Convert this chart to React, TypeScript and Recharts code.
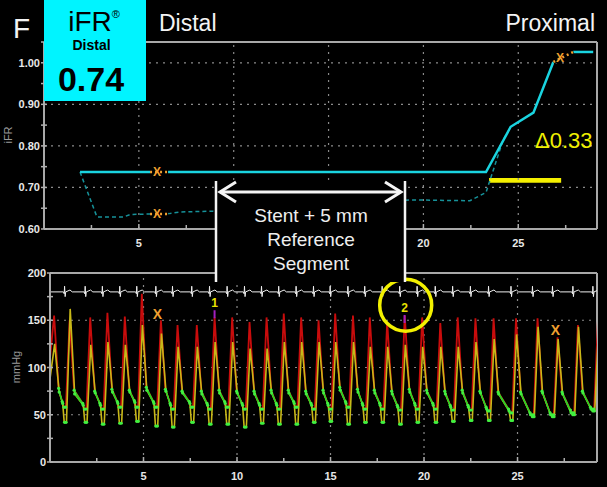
import React from 'react';
import { ComposedChart, Line, XAxis, YAxis, ReferenceLine, ReferenceArea, ReferenceDot, Scatter } from 'recharts';

const FONT = '"Liberation Sans", Arial, Helvetica, sans-serif';

// ---------- Top chart (iFR pullback) ----------
const pullbackT = [1.9, 23.3, 24.6, 25.8, 26.85];
const pullbackIFR = [0.737, 0.737, 0.846, 0.88, 1.002];
const proximalT = [27.9, 28.95];
const proximalIFR = [1.026, 1.026];
const gradientT = [1.9, 2.79, 4.2, 4.55, 6.6, 7.2, 8.9, 12.0, 15.5, 19.35, 22.45, 23.3, 24.2, 24.6];
const gradientIFR = [0.737, 0.629, 0.629, 0.635, 0.637, 0.641, 0.643, 0.652, 0.662, 0.67, 0.668, 0.688, 0.814, 0.846];
const markerT = [5.96, 5.96, 27.2];
const markerIFR = [0.737, 0.636, 1.012];
const markerSegT = [[5.59, 6.54], [5.59, 6.54], [26.85, 27.9]];
const markerSegIFR = [[0.737, 0.737], [0.636, 0.636], [1.002, 1.026]];
const deltaBarT = [23.46, 27.26];
const deltaBarIFR = [0.711, 0.723];

const xTicks = [2.5, 5, 7.5, 10, 12.5, 15, 17.5, 20, 22.5, 25, 27.5];
const topXLabels = [5, 20, 25]; // 10 and 15 sit under the annotation box
const botXLabels = [5, 10, 15, 20, 25];
const gridX = [5, 10, 15, 20, 25];
const topYTicks = [0.6, 0.65, 0.7, 0.75, 0.8, 0.85, 0.9, 0.95, 1.0, 1.05];
const topGridY = [0.7, 0.8, 0.9, 1.0];

// ---------- Bottom chart (pressures) ----------
const beatPeakT = [0.22, 1.05, 2.15, 3.07, 4.0, 4.91, 5.93, 6.82, 7.85, 8.8, 9.74, 10.67, 11.58, 12.5, 13.43, 14.36, 15.25, 16.2, 17.1, 18.03, 18.97, 19.9, 20.87, 21.8, 22.75, 23.72, 24.92, 26.07, 27.14, 28.23, 29.3];
// aortic pressure (Pa, red)
const paSystolic = [155, 150, 153, 158, 154, 178, 150, 145, 145, 153, 153, 148, 153, 157, 153, 150, 157, 155, 153, 148, 155, 153, 147, 153, 152, 152, 152, 152, 132, 145, 150];
const paNotch = [78, 76, 75, 77, 76, 79, 77, 75, 75, 76, 75, 75, 76, 76, 75, 76, 79, 77, 76, 75, 77, 76, 75, 76, 75, 74, 74, 75, 74, 75, 75];
const paLate = [64, 62, 62, 64, 65, 64, 62, 64, 62, 64, 62, 62, 62, 64, 62, 62, 64, 62, 62, 60, 62, 62, 60, 60, 58, 56, 52, 52, 55, 58, 58];
const paEndDiastolic = [58, 56, 56, 58, 58, 58, 56, 58, 56, 58, 56, 56, 56, 58, 56, 56, 58, 56, 56, 55, 56, 56, 55, 55, 54, 52, 50, 50, 52, 56, 56];
// distal pressure (Pd, yellow)
const pdSystolic = [125, 162, 124, 127, 124, 145, 136, 122, 122, 127, 127, 120, 120, 127, 127, 127, 127, 127, 122, 122, 124, 122, 122, 122, 127, 130, 135, 143, 130, 143, 140];
const pdNotch = [74, 72, 73, 74, 74, 76, 75, 73, 72, 73, 73, 72, 73, 73, 72, 73, 76, 74, 73, 72, 74, 73, 72, 73, 73, 72, 72, 73, 72, 73, 73];
const pdLate = [62, 60, 60, 62, 63, 62, 60, 62, 60, 62, 60, 60, 60, 62, 60, 60, 62, 60, 60, 58, 60, 60, 58, 58, 56, 54, 50, 50, 52, 56, 56];
const pdEndDiastolic = [42, 42, 40, 41, 43, 38, 37, 42, 40, 40, 37, 41, 40, 40, 42, 43, 40, 42, 42, 40, 42, 42, 43, 44, 44, 44, 48, 48, 50, 54, 54];
const paStart = 110;
const pdStart = 88;

const ecgBase = 180;
const ecgShapeDt = [-0.05, -0.01, 0.01, 0.04, 0.07, 0.3, 0.42];
const ecgShapeDv = [0, -2, 6, -5, 0, 2, 0];

const pressureMarkT = [5.75, 27.03];
const pressureMarkV = [157, 140];
const beatLabelText = ['1', '2'];
const beatLabelT = [8.8, 18.96];
const beatLabelV = [168, 163];
const circleT = 19.02;
const circleV = 166;

const botYTicks = [0, 25, 50, 75, 100, 125, 150, 175, 200];
const botGridY = [50, 100, 150];

const stentLines = ['Stent + 5 mm', 'Reference', 'Segment'];

type P = { t: number; v: number | null };

function buildWave(start: number, sys: number[], notch: number[], late: number[], end: number[], lag: number) {
  const wave: P[] = [{ t: 0, v: start }];
  const wfp: P[] = [];
  beatPeakT.forEach((tp, i) => {
    if (i > 0) wave.push({ t: tp - 0.2 + lag, v: end[i - 1] });
    wave.push({ t: tp + lag, v: sys[i] });
    wave.push({ t: tp + 0.24 + lag, v: notch[i] });
    const next = beatPeakT[i + 1];
    if (next !== undefined) {
      wave.push({ t: next - 0.4 + lag, v: late[i] });
      wave.push({ t: next - 0.32 + lag, v: end[i] });
      wfp.push({ t: tp + 0.24 + lag, v: notch[i] });
      wfp.push({ t: next - 0.4 + lag, v: late[i] });
      wfp.push({ t: next - 0.4 + lag, v: null });
      wfp.push({ t: next - 0.3 + lag, v: end[i] });
      wfp.push({ t: next - 0.22 + lag, v: end[i] });
      wfp.push({ t: next - 0.22 + lag, v: null });
    }
  });
  return { wave, wfp };
}

function buildEcg(): P[] {
  const pts: P[] = [{ t: 0, v: ecgBase }];
  beatPeakT.forEach((tp) => {
    const r = tp - 0.28;
    if (r < 0.08) return;
    ecgShapeDt.forEach((dt, k) => pts.push({ t: r + dt, v: ecgBase + ecgShapeDv[k] }));
  });
  return pts;
}

const isMajor = (v: number, step: number) => Math.abs(v / step - Math.round(v / step)) < 1e-6;

const makeXTick = (labels: number[]) => (props: any) => {
  const { x, y, payload } = props;
  const v = payload.value;
  const major = isMajor(v, 5);
  const showLabel = labels.some((l) => Math.abs(l - v) < 1e-6);
  return (
    <g>
      <line x1={x} x2={x} y1={y} y2={y - (major ? 5 : 4)} stroke="#b0b0b0" strokeWidth={1.5} />
      {showLabel ? (
        <text x={x} y={y + 18} textAnchor="middle" fill="#e8e8e8" fontSize={11} fontWeight="bold" fontFamily={FONT}>
          {v}
        </text>
      ) : null}
    </g>
  );
};

const TopXTick = makeXTick(topXLabels);
const BotXTick = makeXTick(botXLabels);

const makeYTick = (step: number, fmt: (v: number) => string, dx: number) => (props: any) => {
  const { x, y, payload } = props;
  const v = payload.value;
  const major = isMajor(v, step);
  return (
    <g>
      <line x1={x - 3} x2={x + 3} y1={y} y2={y} stroke="#b0b0b0" strokeWidth={1.5} />
      {major ? (
        <text x={x - dx} y={y + 4} textAnchor="end" fill="#e8e8e8" fontSize={11} fontWeight="bold" fontFamily={FONT}>
          {fmt(v)}
        </text>
      ) : null}
    </g>
  );
};

const TopYTick = makeYTick(0.1, (v) => v.toFixed(2), 4);
const BotYTick = makeYTick(50, (v) => String(Math.round(v)), 4);

const TopMark = (p: any) => (
  <text x={p.cx} y={p.cy + 4} textAnchor="middle" fill="#f0a030" fontSize={12} fontWeight="bold" fontFamily={FONT}>
    X
  </text>
);

const PressMark = (p: any) => (
  <text x={p.cx} y={p.cy + 5} textAnchor="middle" fill="#f0a030" fontSize={14} fontWeight="bold" fontFamily={FONT}>
    X
  </text>
);

const BeatLabel = (p: any) => (
  <g>
    <text x={p.cx} y={p.cy + 4} textAnchor="middle" fill="#e8e000" fontSize={12} fontWeight="bold" fontFamily={FONT}>
      {p.payload.label}
    </text>
    <line x1={p.cx} x2={p.cx} y1={p.cy + 7} y2={p.cy + 15} stroke="#a020c0" strokeWidth={2} />
  </g>
);

const gridStroke = '#8a8a8a';
const frameStroke = '#a8a8a8';

export default function App() {
  const pullbackData = pullbackT.map((t, i) => ({ t, v: pullbackIFR[i] }));
  const proximalData = proximalT.map((t, i) => ({ t, v: proximalIFR[i] }));
  const gradientData = gradientT.map((t, i) => ({ t, v: gradientIFR[i] }));
  const markerData = markerT.map((t, i) => ({ t, v: markerIFR[i] }));
  const markerSegData: P[] = [];
  markerSegT.forEach((seg, i) => {
    markerSegData.push({ t: seg[0], v: markerSegIFR[i][0] });
    markerSegData.push({ t: seg[1], v: markerSegIFR[i][1] });
    markerSegData.push({ t: seg[1], v: null });
  });

  const pa = buildWave(paStart, paSystolic, paNotch, paLate, paEndDiastolic, 0);
  const pd = buildWave(pdStart, pdSystolic, pdNotch, pdLate, pdEndDiastolic, 0.03);
  const ecg = buildEcg();
  const pressMarkData = pressureMarkT.map((t, i) => ({ t, v: pressureMarkV[i] }));
  const beatLabelData = beatLabelT.map((t, i) => ({ t, v: beatLabelV[i], label: beatLabelText[i] }));

  return (
    <div style={{ position: 'fixed', left: 0, top: 0, width: 607, height: 487, background: '#000', overflow: 'hidden', fontFamily: FONT }}>
      <div style={{ position: 'absolute', left: 0, top: 0 }}>
        <ComposedChart width={607} height={250} margin={{ top: 42, right: 10, bottom: 0, left: 0 }}>
          <XAxis type="number" dataKey="t" domain={[0, 29.15]} allowDataOverflow ticks={xTicks} interval={0}
            tick={(p: any) => <TopXTick {...p} />} tickLine={false} tickSize={0} tickMargin={0} height={21}
            axisLine={{ stroke: frameStroke, strokeWidth: 2 }} />
          <YAxis type="number" domain={[0.6, 1.05]} allowDataOverflow ticks={topYTicks} interval={0}
            tick={(p: any) => <TopYTick {...p} />} tickLine={false} tickSize={0} tickMargin={0} width={44}
            axisLine={{ stroke: frameStroke, strokeWidth: 2 }} />
          {topGridY.map((y) => (
            <ReferenceLine key={'ty' + y} y={y} stroke={gridStroke} strokeDasharray="2 5" strokeWidth={1.2} />
          ))}
          {gridX.map((x) => (
            <ReferenceLine key={'tx' + x} x={x} stroke={gridStroke} strokeDasharray="2 5" strokeWidth={1.2} />
          ))}
          <ReferenceLine y={1.05} stroke={frameStroke} strokeWidth={2} />
          <ReferenceLine x={29.15} stroke={frameStroke} strokeWidth={2} />
          <ReferenceArea x1={deltaBarT[0]} x2={deltaBarT[1]} y1={deltaBarIFR[0]} y2={deltaBarIFR[1]} fill="#f5f000" fillOpacity={1} stroke="none" />
          <Line data={gradientData} dataKey="v" stroke="#16929a" strokeWidth={1.5} strokeDasharray="4 3" dot={false} isAnimationActive={false} />
          <Line data={pullbackData} dataKey="v" stroke="#1ad4e0" strokeWidth={2.5} dot={false} isAnimationActive={false} />
          <Line data={proximalData} dataKey="v" stroke="#1ad4e0" strokeWidth={2.5} dot={false} isAnimationActive={false} />
          <Line data={markerSegData} dataKey="v" stroke="#000" strokeWidth={5} dot={false} isAnimationActive={false} />
          <Line data={markerSegData} dataKey="v" stroke="#f0a030" strokeWidth={2.5} strokeDasharray="2 3" dot={false} isAnimationActive={false} />
          <Scatter data={markerData} dataKey="v" shape={(p: any) => <TopMark {...p} />} isAnimationActive={false} />
        </ComposedChart>
      </div>

      <div style={{ position: 'absolute', left: 0, top: 250 }}>
        <ComposedChart width={607} height={237} margin={{ top: 23, right: 10, bottom: 0, left: 0 }}>
          <XAxis type="number" dataKey="t" domain={[0, 29.25]} allowDataOverflow ticks={xTicks} interval={0}
            tick={(p: any) => <BotXTick {...p} />} tickLine={false} tickSize={0} tickMargin={0} height={25}
            axisLine={{ stroke: frameStroke, strokeWidth: 2 }} />
          <YAxis type="number" domain={[0, 200]} allowDataOverflow ticks={botYTicks} interval={0}
            tick={(p: any) => <BotYTick {...p} />} tickLine={false} tickSize={0} tickMargin={0} width={50}
            axisLine={{ stroke: frameStroke, strokeWidth: 2 }} />
          {botGridY.map((y) => (
            <ReferenceLine key={'by' + y} y={y} stroke={gridStroke} strokeDasharray="2 5" strokeWidth={1.2} />
          ))}
          {gridX.map((x) => (
            <ReferenceLine key={'bx' + x} x={x} stroke={gridStroke} strokeDasharray="2 5" strokeWidth={1.2} />
          ))}
          <ReferenceLine y={200} stroke={frameStroke} strokeWidth={2} />
          <ReferenceLine x={29.25} stroke={frameStroke} strokeWidth={2} />
          <Line data={ecg} dataKey="v" stroke="#eeeeee" strokeWidth={1} dot={false} isAnimationActive={false} />
          <Line data={pa.wave} dataKey="v" stroke="#c80c0c" strokeWidth={1.8} dot={false} isAnimationActive={false} />
          <Line data={pd.wave} dataKey="v" stroke="#c8b818" strokeWidth={1.6} dot={false} isAnimationActive={false} />
          <Line data={pa.wfp} dataKey="v" stroke="#28d028" strokeWidth={1.3} dot={{ r: 1.6, fill: '#40f040', stroke: 'none' }} isAnimationActive={false} />
          <Line data={pd.wfp} dataKey="v" stroke="#28d028" strokeWidth={1.3} dot={{ r: 1.6, fill: '#40f040', stroke: 'none' }} isAnimationActive={false} />
          <Scatter data={pressMarkData} dataKey="v" shape={(p: any) => <PressMark {...p} />} isAnimationActive={false} />
          <Scatter data={beatLabelData} dataKey="v" shape={(p: any) => <BeatLabel {...p} />} isAnimationActive={false} />
          <ReferenceDot x={circleT} y={circleV} r={26} fill="none" stroke="#f2f000" strokeWidth={3.5} />
        </ComposedChart>
      </div>

      <svg width={607} height={487} style={{ position: 'absolute', left: 0, top: 0, pointerEvents: 'none' }}>
        <text x={13} y={38} fontSize={28} fill="#f4f4f4" fontFamily={FONT}>F</text>
        <rect x={44} y={0} width={102} height={101} fill="#00f4ff" />
        <text x={94} y={31} textAnchor="middle" fontSize={28} fill="#000" fontFamily={FONT}>
          iFR<tspan fontSize={11} dy={-13}>®</tspan>
        </text>
        <text x={91.5} y={50} textAnchor="middle" fontSize={14} fontWeight="bold" fill="#000" fontFamily={FONT}>Distal</text>
        <text x={91} y={91} textAnchor="middle" fontSize={34} fontWeight="bold" fill="#000" fontFamily={FONT}>0.74</text>
        <text x={159} y={31} fontSize={23} fill="#f4f4f4" fontFamily={FONT}>Distal</text>
        <text x={595} y={31} textAnchor="end" fontSize={23} fill="#f4f4f4" fontFamily={FONT}>Proximal</text>
        <text transform="translate(12,135) rotate(-90)" textAnchor="middle" fontSize={11} fill="#9a9a9a" fontFamily={FONT}>iFR</text>
        <text transform="translate(20,367) rotate(-90)" textAnchor="middle" fontSize={11} fill="#9a9a9a" fontFamily={FONT}>mmHg</text>
        <text x={535} y={148} fontSize={22} fill="#f0f000" fontFamily={FONT}>Δ0.33</text>

        <rect x={216} y={182} width={189} height={100} fill="#000" />
        <line x1={216} x2={216} y1={181} y2={282} stroke="#f4f4f4" strokeWidth={2.5} />
        <line x1={405} x2={405} y1={181} y2={282} stroke="#f4f4f4" strokeWidth={2.5} />
        <line x1={220} x2={401} y1={192} y2={192} stroke="#f4f4f4" strokeWidth={3} />
        <polyline points="236,182 220,192 236,202" fill="none" stroke="#f4f4f4" strokeWidth={3} />
        <polyline points="385,182 401,192 385,202" fill="none" stroke="#f4f4f4" strokeWidth={3} />
        {stentLines.map((s, i) => (
          <text key={s} x={311} y={222 + i * 24} textAnchor="middle" fontSize={19} fill="#eeeeee" fontFamily={FONT}>{s}</text>
        ))}
      </svg>
    </div>
  );
}
